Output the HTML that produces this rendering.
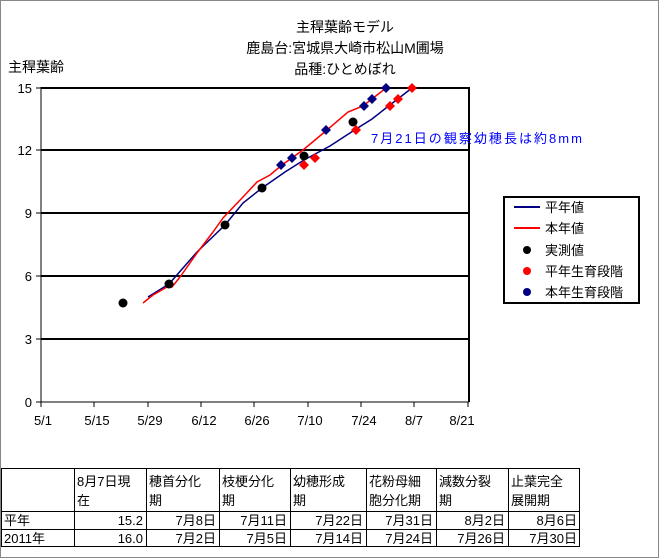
<!DOCTYPE html><html><head><meta charset="utf-8"><style>
body{margin:0;background:#fff;}
svg{display:block;font-family:"Liberation Sans","Noto Sans CJK JP",sans-serif;}
</style></head><body>
<svg width="663" height="559" viewBox="0 0 663 559">
<rect x="0.5" y="0.5" width="658" height="557" fill="#fff" stroke="#888"/>
<g font-size="14" text-anchor="middle" fill="#000">
<text x="345" y="32">主稈葉齢モデル</text>
<text x="345" y="53">鹿島台:宮城県大崎市松山M圃場</text>
<text x="345" y="74">品種:ひとめぼれ</text>
</g>
<text x="8" y="72" font-size="14">主稈葉齢</text>
<g stroke="#000" stroke-width="2">
<line x1="41" y1="88" x2="469" y2="88"/><line x1="41" y1="150" x2="469" y2="150"/>
<line x1="41" y1="213" x2="469" y2="213"/><line x1="41" y1="276" x2="469" y2="276"/>
<line x1="41" y1="339" x2="469" y2="339"/>
<line x1="469" y1="87" x2="469" y2="402"/>
</g>
<line x1="41" y1="87" x2="41" y2="402" stroke="#000"/>
<line x1="41" y1="402" x2="469" y2="402" stroke="#000"/>
<g stroke="#000">
<line x1="36" y1="88" x2="41" y2="88"/><line x1="36" y1="150" x2="41" y2="150"/><line x1="36" y1="213" x2="41" y2="213"/><line x1="36" y1="276" x2="41" y2="276"/><line x1="36" y1="339" x2="41" y2="339"/><line x1="36" y1="402" x2="41" y2="402"/>
<line x1="41" y1="402" x2="41" y2="407"/><line x1="94" y1="402" x2="94" y2="407"/><line x1="148" y1="402" x2="148" y2="407"/><line x1="201" y1="402" x2="201" y2="407"/><line x1="254" y1="402" x2="254" y2="407"/><line x1="308" y1="402" x2="308" y2="407"/><line x1="361" y1="402" x2="361" y2="407"/><line x1="414" y1="402" x2="414" y2="407"/><line x1="468" y1="402" x2="468" y2="407"/>
</g>
<g font-size="13" text-anchor="end">
<text x="32" y="93">15</text><text x="32" y="155">12</text><text x="32" y="218">9</text><text x="32" y="281">6</text><text x="32" y="344">3</text><text x="32" y="407">0</text>
</g>
<g font-size="13" text-anchor="middle">
<text x="43" y="425">5/1</text><text x="97" y="425">5/15</text><text x="150" y="425">5/29</text><text x="204" y="425">6/12</text><text x="257" y="425">6/26</text><text x="310" y="425">7/10</text><text x="364" y="425">7/24</text><text x="414" y="425">8/7</text><text x="462" y="425">8/21</text>
</g>
<polyline fill="none" stroke="#000080" stroke-width="1.5" points="148,297 169,284 197,252 225,225 243,203 262,188 285,172 304,160 330,146 353,131 372,119 386,108 412,88"/>
<polyline fill="none" stroke="#f00" stroke-width="1.5" points="143,303 153,295 167,287 172,287 180,277 197,253 213,232 223,218 243,197 257,182 270,175 282,165 303,150 327,130 348,112 363,106 386,88"/>
<g fill="#000">
<circle cx="123" cy="303" r="4.5"/><circle cx="169" cy="284" r="4.5"/><circle cx="225" cy="225" r="4.5"/><circle cx="262" cy="188" r="4.5"/><circle cx="304" cy="156" r="4.5"/><circle cx="353" cy="122" r="4.5"/>
</g>
<g fill="#000080">
<path d="M281,160l5,5l-5,5l-5,-5z"/><path d="M292,153l5,5l-5,5l-5,-5z"/><path d="M326,125l5,5l-5,5l-5,-5z"/><path d="M364,101l5,5l-5,5l-5,-5z"/><path d="M372,94l5,5l-5,5l-5,-5z"/><path d="M386,83l5,5l-5,5l-5,-5z"/>
</g>
<g fill="#f00">
<path d="M304,160l5,5l-5,5l-5,-5z"/><path d="M315,153l5,5l-5,5l-5,-5z"/><path d="M356,125l5,5l-5,5l-5,-5z"/><path d="M390,101l5,5l-5,5l-5,-5z"/><path d="M398,94l5,5l-5,5l-5,-5z"/><path d="M412,83l5,5l-5,5l-5,-5z"/>
</g>
<text x="371" y="143" font-size="13" fill="#0000ff" textLength="211" lengthAdjust="spacing">7月21日の観察幼穂長は約8mm</text>
<rect x="504" y="197" width="135" height="106" fill="#fff" stroke="#000" stroke-width="2"/>
<line x1="514" y1="207" x2="540" y2="207" stroke="#000080" stroke-width="2"/>
<line x1="514" y1="228" x2="540" y2="228" stroke="#f00" stroke-width="2"/>
<circle cx="527" cy="250" r="4" fill="#000"/>
<circle cx="527" cy="271" r="4" fill="#f00"/>
<circle cx="527" cy="292" r="4" fill="#000080"/>
<g font-size="13"><text x="545" y="212">平年値</text><text x="545" y="233">本年値</text><text x="545" y="255">実測値</text><text x="545" y="276">平年生育段階</text><text x="545" y="297">本年生育段階</text></g>
<g stroke="#000" stroke-width="1">
<rect x="1.5" y="468.5" width="578" height="78" fill="none"/>
<line x1="1" y1="511.5" x2="580" y2="511.5"/><line x1="1" y1="529.5" x2="580" y2="529.5"/>
<line x1="74.5" y1="468" x2="74.5" y2="547"/><line x1="146.5" y1="468" x2="146.5" y2="547"/><line x1="219.5" y1="468" x2="219.5" y2="547"/><line x1="290.5" y1="468" x2="290.5" y2="547"/><line x1="366.5" y1="468" x2="366.5" y2="547"/><line x1="436.5" y1="468" x2="436.5" y2="547"/><line x1="508.5" y1="468" x2="508.5" y2="547"/>
</g>
<g font-size="13">
<text x="77" y="486">8月7日現</text><text x="77" y="505">在</text>
<text x="149" y="486">穂首分化</text><text x="149" y="505">期</text>
<text x="222" y="486">枝梗分化</text><text x="222" y="505">期</text>
<text x="293" y="486">幼穂形成</text><text x="293" y="505">期</text>
<text x="369" y="486">花粉母細</text><text x="369" y="505">胞分化期</text>
<text x="439" y="486">減数分裂</text><text x="439" y="505">期</text>
<text x="511" y="486">止葉完全</text><text x="511" y="505">展開期</text>
<text x="4" y="525">平年</text><text x="4" y="543">2011年</text>
</g>
<g font-size="13" text-anchor="end">
<text x="143" y="525">15.2</text><text x="216" y="525">7月8日</text><text x="287" y="525">7月11日</text><text x="363" y="525">7月22日</text><text x="433" y="525">7月31日</text><text x="505" y="525">8月2日</text><text x="577" y="525">8月6日</text>
<text x="143" y="543">16.0</text><text x="216" y="543">7月2日</text><text x="287" y="543">7月5日</text><text x="363" y="543">7月14日</text><text x="433" y="543">7月24日</text><text x="505" y="543">7月26日</text><text x="577" y="543">7月30日</text>
</g>
</svg>
</body></html>
